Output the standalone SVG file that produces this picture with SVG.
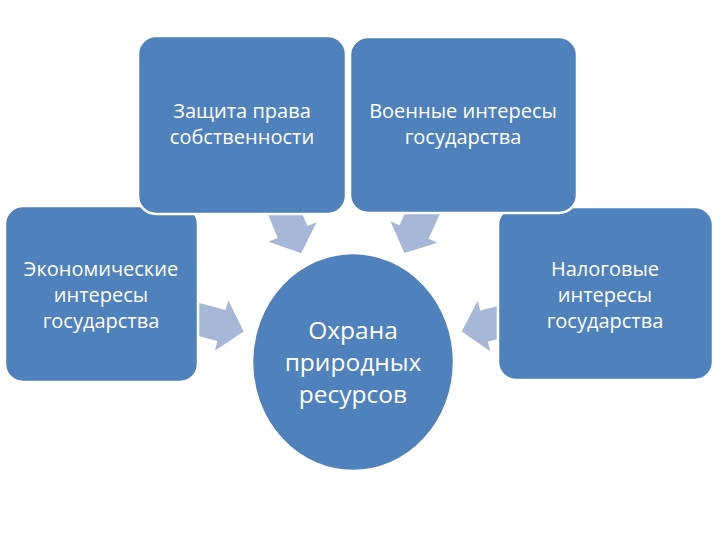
<svg xmlns="http://www.w3.org/2000/svg" width="720" height="540" viewBox="0 0 720 540">
<defs>
<style>
.box{fill:#4f81bd;stroke:#ffffff;stroke-width:2.5}
.arr{fill:#a7b7d8}
.t{fill:#ffffff;font-family:"Open Sans","Liberation Sans",sans-serif;font-size:20px;text-anchor:middle}
.tc{fill:#ffffff;font-family:"Open Sans","Liberation Sans",sans-serif;font-size:24.5px;text-anchor:middle}
</style>
<polygon id="ba" points="-34,-16 0,-16 0,-26 23,0 0,26 0,16 -34,16"/>
</defs>
<rect width="720" height="540" fill="#ffffff"/>
<g id="connectors">
<use href="#ba" class="arr" transform="translate(292.5,232) rotate(67.8)"/>
<use href="#ba" class="arr" transform="translate(414,232) rotate(114.6)"/>
<use href="#ba" class="arr" transform="translate(221.5,325.5) rotate(14.9)"/>
<use href="#ba" class="arr" transform="translate(484,326) rotate(166)"/>
</g>
<g id="node-econ">
<rect class="box" x="5" y="206" width="193" height="176" rx="18"/>
<text class="t" x="101" y="276">Экономические</text>
<text class="t" x="101" y="302">интересы</text>
<text class="t" x="101" y="328">государства</text>
</g>
<g id="node-tax">
<rect class="box" x="498" y="207" width="215" height="173" rx="18"/>
<text class="t" x="605" y="276">Налоговые</text>
<text class="t" x="605" y="302">интересы</text>
<text class="t" x="605" y="328">государства</text>
</g>
<g id="node-property">
<rect class="box" x="138" y="36" width="208" height="178" rx="18"/>
<text class="t" x="242" y="118">Защита права</text>
<text class="t" x="242" y="144">собственности</text>
</g>
<g id="node-military">
<rect class="box" x="350" y="37" width="227" height="176" rx="18"/>
<text class="t" x="463" y="118">Военные интересы</text>
<text class="t" x="463" y="144">государства</text>
</g>
<g id="node-center">
<ellipse class="box" cx="353" cy="362" rx="101" ry="109"/>
<text class="tc" x="353" y="339">Охрана</text>
<text class="tc" x="353" y="371">природных</text>
<text class="tc" x="353" y="403">ресурсов</text>
</g>
</svg>
